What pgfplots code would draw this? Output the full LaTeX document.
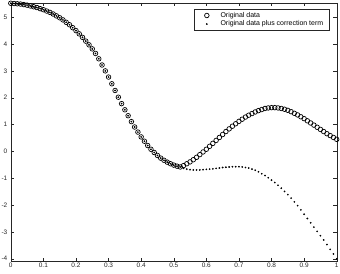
\documentclass[border=0pt]{standalone}
\usepackage{fontspec}
\setmainfont{Liberation Sans}
\usepackage{pgfplots}
\pgfplotsset{compat=1.18}
\usepackage{pgfplotstable}
\definecolor{axgray}{gray}{0.15}

\pgfplotstableread{
x y
0.00 5.52
0.01 5.51
0.02 5.50
0.03 5.49
0.04 5.47
0.05 5.45
0.06 5.42
0.07 5.39
0.08 5.36
0.09 5.32
0.10 5.28
0.11 5.23
0.12 5.18
0.13 5.12
0.14 5.05
0.15 4.98
0.16 4.90
0.17 4.81
0.18 4.72
0.19 4.61
0.20 4.50
0.21 4.38
0.22 4.25
0.23 4.11
0.24 3.97
0.25 3.82
0.26 3.65
0.27 3.45
0.28 3.22
0.29 3.00
0.30 2.77
0.31 2.52
0.32 2.27
0.33 2.02
0.34 1.78
0.35 1.55
0.36 1.33
0.37 1.11
0.38 0.91
0.39 0.72
0.40 0.54
0.41 0.38
0.42 0.22
0.43 0.08
0.44 -0.04
0.45 -0.15
0.46 -0.25
0.47 -0.33
0.48 -0.40
0.49 -0.46
0.50 -0.51
0.51 -0.55
0.52 -0.58
0.53 -0.53
0.54 -0.46
0.55 -0.39
0.56 -0.31
0.57 -0.22
0.58 -0.12
0.59 -0.02
0.60 0.08
0.61 0.19
0.62 0.30
0.63 0.41
0.64 0.52
0.65 0.63
0.66 0.74
0.67 0.84
0.68 0.94
0.69 1.03
0.70 1.12
0.71 1.20
0.72 1.28
0.73 1.35
0.74 1.41
0.75 1.47
0.76 1.52
0.77 1.56
0.78 1.60
0.79 1.62
0.80 1.63
0.81 1.63
0.82 1.62
0.83 1.60
0.84 1.57
0.85 1.53
0.86 1.48
0.87 1.42
0.88 1.36
0.89 1.29
0.90 1.22
0.91 1.14
0.92 1.06
0.93 0.98
0.94 0.90
0.95 0.82
0.96 0.74
0.97 0.66
0.98 0.59
0.99 0.52
1.00 0.45
}\orig

\pgfplotstableread{
x y
0.00 5.52
0.01 5.51
0.02 5.50
0.03 5.49
0.04 5.47
0.05 5.45
0.06 5.42
0.07 5.39
0.08 5.36
0.09 5.32
0.10 5.28
0.11 5.23
0.12 5.18
0.13 5.12
0.14 5.05
0.15 4.98
0.16 4.90
0.17 4.81
0.18 4.72
0.19 4.61
0.20 4.50
0.21 4.38
0.22 4.25
0.23 4.11
0.24 3.97
0.25 3.82
0.26 3.65
0.27 3.45
0.28 3.22
0.29 3.00
0.30 2.77
0.31 2.52
0.32 2.27
0.33 2.02
0.34 1.78
0.35 1.55
0.36 1.33
0.37 1.11
0.38 0.91
0.39 0.72
0.40 0.54
0.41 0.38
0.42 0.22
0.43 0.08
0.44 -0.04
0.45 -0.15
0.46 -0.25
0.47 -0.33
0.48 -0.40
0.49 -0.46
0.50 -0.51
0.51 -0.55
0.52 -0.58
0.53 -0.63
0.54 -0.66
0.55 -0.68
0.56 -0.69
0.57 -0.69
0.58 -0.69
0.59 -0.68
0.60 -0.67
0.61 -0.66
0.62 -0.65
0.63 -0.63
0.64 -0.62
0.65 -0.60
0.66 -0.59
0.67 -0.58
0.68 -0.57
0.69 -0.57
0.70 -0.57
0.71 -0.58
0.72 -0.60
0.73 -0.62
0.74 -0.66
0.75 -0.70
0.76 -0.76
0.77 -0.83
0.78 -0.90
0.79 -0.98
0.80 -1.07
0.81 -1.16
0.82 -1.26
0.83 -1.37
0.84 -1.49
0.85 -1.61
0.86 -1.74
0.87 -1.88
0.88 -2.02
0.89 -2.18
0.90 -2.34
0.91 -2.50
0.92 -2.66
0.93 -2.82
0.94 -2.98
0.95 -3.14
0.96 -3.30
0.97 -3.47
0.98 -3.65
0.99 -3.82
1.00 -4.00
}\corr

\begin{document}
\begin{tikzpicture}
\begin{axis}[
  name=ax,
  width=326bp, height=258bp, scale only axis,
  xmin=0, xmax=1, ymin=-4.08, ymax=5.53,
  xtick={0,0.1,0.2,0.3,0.4,0.5,0.6,0.7,0.8,0.9,1},
  xticklabels={0,0.1,0.2,0.3,0.4,0.5,0.6,0.7,0.8,0.9,1},
  ytick={-4,-3,-2,-1,0,1,2,3,4,5},
  yticklabels={-4,-3,-2,-1,0,1,2,3,4,5},
  xtick pos=both, ytick pos=both,
  xticklabel pos=bottom, yticklabel pos=left,
  tick align=inside,
  major tick length=3.3bp,
  tick style={axgray, line width=0.4bp},
  axis line style={axgray, line width=0.4bp},
  ticklabel style={font=\fontsize{6.5}{7}\selectfont, text=axgray},
  xticklabel style={yshift=1bp},
  legend style={at={(0.977,0.977)}, anchor=north east, draw=axgray,
    line width=0.4bp, font=\fontsize{7}{8}\selectfont,
    inner xsep=5bp, inner ysep=2.3bp, row sep=0.4bp, column sep=0bp,
    nodes={inner sep=0.8bp}},
  legend cell align=left,
  legend image code/.code={\draw[#1] plot coordinates {(0bp,0bp)}; \path (-7.5bp,0bp) (12.7bp,0bp);},
]
\addplot[only marks, mark=o, mark size=2.3bp, black, mark options={line width=0.7bp}] table[x=x,y=y] {\orig};
\addlegendentry{Original data}
\addplot[only marks, mark=*, mark size=0.65bp, black] table[x=x,y=y] {\corr};
\addlegendentry{Original data plus correction term}
\end{axis}
\pgfresetboundingbox
\path[use as bounding box] ([xshift=-10.8bp,yshift=-12.3bp]ax.south west) rectangle ([xshift=3.3bp,yshift=3bp]ax.north east);
\end{tikzpicture}
\end{document}
